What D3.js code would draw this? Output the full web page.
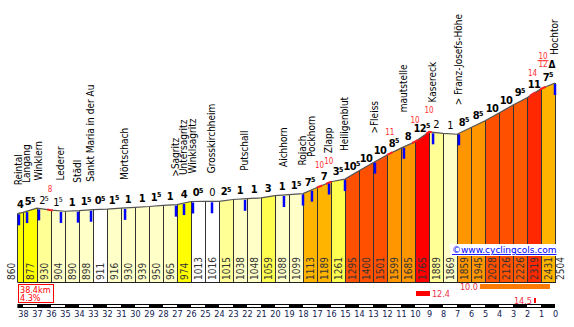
<!DOCTYPE html>
<meta charset="utf-8">
<head>
<style>
  body { margin: 0; background: #fff; }
  svg text { font-family: "DejaVu Sans Condensed", "DejaVu Sans", sans-serif; font-stretch: condensed; }
</style>
</head>
<body>
<svg id="profile" width="574" height="327"></svg>
<script src="https://d3js.org/d3.v7.min.js"></script>
<script>

// km to the top and altitude (m) at every km mark
var kms = [38.4, 38, 37, 36, 35, 34, 33, 32, 31, 30, 29, 28, 27, 26, 25, 24, 23, 22, 21, 20,
           19, 18, 17, 16, 15, 14, 13, 12, 11, 10, 9, 8, 7, 6, 5, 4, 3, 2, 1, 0];
var altitudes = [860, 877, 930, 904, 890, 898, 911, 916, 930, 939, 950, 965, 974, 1013, 1016, 1015, 1038, 1048, 1059, 1088,
                 1099, 1113, 1189, 1261, 1295, 1400, 1501, 1599, 1685, 1765, 1889, 1869, 1859, 1945, 2028, 2126, 2226, 2319, 2431, 2504];

// average gradient of each km, rounded to half a percent
var gradients = [4, 5.5, 2.5, 1.5, 1, 1.5, 0.5, 1.5, 1, 1, 1.5, 1, 4, 0.5, 0, 2.5, 1, 1, 3, 1,
                 1.5, 7.5, 7, 3.5, 10.5, 10, 10, 8.5, 8, 12.5, 2, 1, 8.5, 8.5, 10, 10, 9.5, 11, 7.5];

// places along the road
var placeNames = ["Reintal", "Langang", "Winklern", "Lederer", "Städl", "Sankt Maria in der Au", "Mörtschach",
                  ">Sagritz", "Untersagritz", "Winklsagritz", "Grosskirchheim", "Putschall", "Aichhorn", "Rojach",
                  "Pockhorn", "Zlapp", "Heiligenblut", ">Fleiss", "mautstelle", "Kasereck", "> Franz-Josefs-Höhe", "Hochtor"];
var placeKms = [38.29, 37.71, 36.86, 35.29, 34.07, 33.14, 30.71, 27.07, 26.5, 25.86, 24.5, 22.14, 19.36, 18.0,
                17.36, 16.14, 15.0, 12.86, 10.79, 8.71, 6.86, 0];

// steepest short stretches
var steepKms = [36.07, 16.82, 16.16, 11.8, 10.0, 9.0, 1.6];
var steepGrades = [8, 10, 10, 11, 10, 10, 14];
var summitKm = 0.86, summitTop = 10, summitBottom = 12;

// best stretches: value, from km, to km
var bestValues = [10.0, 12.4, 14.5];
var bestFrom = [5.36, 9.93, 1.5];
var bestTo = [0.36, 8.93, 1.36];

var totalKm = 38.4, avgGrade = 4.3;
var tickKms = d3.range(38, -1, -1);

var svg = d3.select("#profile");

var x = d3.scaleLinear().domain([38.4, 0]).range([17.4, 555]);
var y = d3.scaleLinear().domain([0, 2504]).range([282, 83]);
var base = 282;
var steepLift = 18.5;

function altAt(km) {
  for (var i = 0; i < kms.length - 1; i++) {
    if (km <= kms[i] && km >= kms[i + 1]) {
      var t = (kms[i] - km) / (kms[i] - kms[i + 1]);
      return altitudes[i] + t * (altitudes[i + 1] - altitudes[i]);
    }
  }
  return altitudes[altitudes.length - 1];
}

function gradeColour(g) {
  if (g < 1) return "#ffffff";
  if (g < 2) return "#ffffc8";
  if (g < 3) return "#ffff96";
  if (g < 4) return "#ffff50";
  if (g < 7) return "#ffff00";
  if (g < 8) return "#ffb400";
  if (g < 9) return "#ff9600";
  if (g < 10) return "#ff5a00";
  if (g < 11) return "#ff5000";
  if (g < 12) return "#ff2800";
  return "#ff0000";
}

var cols = d3.range(kms.length - 1).map(function(i) {
  return { k0: kms[i], k1: kms[i + 1], a0: altitudes[i], a1: altitudes[i + 1], g: gradients[i] };
});

// coloured km columns
svg.append("g").selectAll("path")
  .data(cols)
  .enter().append("path")
    .attr("d", function(d) {
      return "M" + x(d.k0) + "," + base + "L" + x(d.k0) + "," + y(d.a0) +
             "L" + x(d.k1) + "," + y(d.a1) + "L" + x(d.k1) + "," + base + "Z";
    })
    .attr("fill", function(d) { return gradeColour(d.g); });

// column borders
svg.append("g").selectAll("line")
  .data(kms)
  .enter().append("line")
    .attr("x1", function(d) { return Math.round(x(d)) + 0.5; })
    .attr("x2", function(d) { return Math.round(x(d)) + 0.5; })
    .attr("y1", function(d, i) { return y(altitudes[i]); })
    .attr("y2", base)
    .attr("stroke", "#333")
    .attr("stroke-width", 1);

svg.append("line")
  .attr("x1", x(38.4)).attr("x2", x(0) + 1)
  .attr("y1", base + 0.5).attr("y2", base + 0.5)
  .attr("stroke", "#222");

// watermark
svg.append("rect").attr("x", 450).attr("y", 244).attr("width", 110).attr("height", 12).attr("fill", "#fff");
svg.append("text")
  .attr("x", 452).attr("y", 253)
  .attr("fill", "#0000ff")
  .style("font-size", "9px")
  .style("font-family", "'DejaVu Sans'")
  .style("font-stretch", "normal")
  .style("text-decoration", "underline")
  .text("©www.cyclingcols.com");

// altitude labels
var altLabels = svg.append("g").attr("fill", "#333").style("font-size", "10px");
altLabels.selectAll("text")
  .data(altitudes)
  .enter().append("text")
    .attr("transform", function(d, i) {
      var bx;
      if (i === 0) bx = x(kms[0]) - 2;
      else if (i === kms.length - 1) bx = x(0) + 9;
      else bx = x((kms[i] + kms[i + 1]) / 2) + 3.5;
      return "translate(" + bx + "," + (base - 2) + ") rotate(-90)";
    })
    .text(function(d) { return d; });

// profile line
var line = d3.line()
  .x(function(d) { return x(d[0]); })
  .y(function(d) { return y(d[1]); });
svg.append("path")
  .datum(d3.zip(kms, altitudes))
  .attr("d", line)
  .attr("fill", "none")
  .attr("stroke", "#555")
  .attr("stroke-width", 1.2);

// steep stretches, red on the line
steepKms.concat([summitKm]).forEach(function(k) {
  var pts = [k + 0.2, k, k - 0.2].map(function(v) { return [v, altAt(v)]; });
  svg.append("path").attr("d", line(pts))
    .attr("fill", "none").attr("stroke", "#ff2020").attr("stroke-width", 2);
});

// gradient per km
var gradeLabels = svg.append("g").attr("text-anchor", "middle").attr("fill", "#000");
cols.forEach(function(d) {
  var cx = x((d.k0 + d.k1) / 2);
  var t = gradeLabels.append("text")
    .attr("x", cx)
    .attr("y", y((d.a0 + d.a1) / 2) - 5)
    .style("font-size", "11px")
    .style("letter-spacing", "-0.6px")
    .style("font-weight", d.a1 < d.a0 ? "normal" : "bold");
  t.append("tspan").text(Math.floor(d.g));
  if (d.g % 1) t.append("tspan").attr("dy", -3.5).style("font-size", "7px").style("letter-spacing", "0").text("5");
});

// blue place markers
svg.append("g").selectAll("line")
  .data(placeKms)
  .enter().append("line")
    .attr("x1", function(d) { return x(d); })
    .attr("x2", function(d) { return x(d); })
    .attr("y1", function(d) { return y(altAt(d)) + 1; })
    .attr("y2", function(d) { return y(altAt(d)) + 12; })
    .attr("stroke", "#0000ff")
    .attr("stroke-width", 2.5);

// red numbers for the steepest bits
var steepLabels = svg.append("g").attr("text-anchor", "middle").attr("fill", "#ff3030").style("font-size", "8px");
steepKms.forEach(function(k, i) {
  steepLabels.append("text")
    .attr("x", x(k)).attr("y", y(altAt(k)) - steepLift)
    .text(steepGrades[i]);
});
var sy = y(altAt(summitKm));
steepLabels.append("text").attr("x", x(summitKm)).attr("y", sy - 29).text(summitTop);
steepLabels.append("text").attr("x", x(summitKm)).attr("y", sy - 20.5).text(summitBottom);
svg.append("line")
  .attr("x1", x(summitKm) - 5.5).attr("x2", x(summitKm) + 5.5)
  .attr("y1", sy - 27.3).attr("y2", sy - 27.3)
  .attr("stroke", "#ff3030").attr("stroke-width", 1);

// summit sign
svg.append("text")
  .attr("x", x(0) - 3).attr("y", y(2504) - 15)
  .attr("text-anchor", "middle")
  .style("font-size", "10px").style("font-weight", "bold")
  .text("Δ");

// place names
var names = svg.append("g").attr("fill", "#000").style("font-size", "10px");
placeNames.forEach(function(n, i) {
  var k = placeKms[i];
  var px = x(k);
  var bottom = y(altAt(k)) - 28;
  steepKms.forEach(function(s) {
    if (Math.abs(x(s) - px) < 11.5) bottom = Math.min(bottom, y(altAt(s)) - steepLift - 11);
  });
  names.append("text")
    .attr("transform", "translate(" + (px + 3) + "," + bottom + ") rotate(-90)")
    .text(n);
});

// total length and average
svg.append("rect")
  .attr("x", 18.5).attr("y", 284.5).attr("width", 35).attr("height", 18)
  .attr("fill", "#fff").attr("stroke", "#ff0000");
var info = svg.append("g").attr("fill", "#ff0000").style("font-size", "9px");
info.append("text").attr("x", 20).attr("y", 292.5).text(totalKm + "km");
info.append("text").attr("x", 20).attr("y", 301).text(avgGrade + "%");

// best stretches
var bestColours = ["#ff7a00", "#ff0000", "#ff0000"];
bestValues.forEach(function(v, i) {
  var x0 = x(bestFrom[i]), x1 = x(bestTo[i]);
  var ry = 284 + i * 7;
  svg.append("rect").attr("x", x0).attr("y", ry).attr("width", x1 - x0).attr("height", 5).attr("fill", bestColours[i]);
  var left = x1 + 25 > x(0);
  svg.append("text")
    .attr("x", left ? x0 - 2 : x1 + 2)
    .attr("y", ry + 5.5)
    .attr("text-anchor", left ? "end" : "start")
    .attr("fill", "#f0304a")
    .style("font-size", "9px")
    .text(d3.format(".1f")(v));
});

// km bar
svg.append("rect").attr("x", x(38.4)).attr("y", 304).attr("width", x(0) - x(38.4)).attr("height", 4).attr("fill", "#000");
svg.append("g").selectAll("rect")
  .data(tickKms.filter(function(k) { return k > 0 && k % 2 === 0; }))
  .enter().append("rect")
    .attr("x", function(d) { return x(d); })
    .attr("y", 305)
    .attr("width", function(d) { return x(d - 1) - x(d); })
    .attr("height", 2)
    .attr("fill", "#fff");

// km axis
var axisG = svg.append("g")
  .attr("transform", "translate(0,308)")
  .call(d3.axisBottom(x).tickValues(tickKms).tickSize(0).tickPadding(3).tickFormat(d3.format("d")));
axisG.select(".domain").remove();
axisG.attr("font-family", null).attr("font-size", null);
axisG.selectAll("text").attr("fill", "#102050").style("font-size", "9px");

</script>
</body>
